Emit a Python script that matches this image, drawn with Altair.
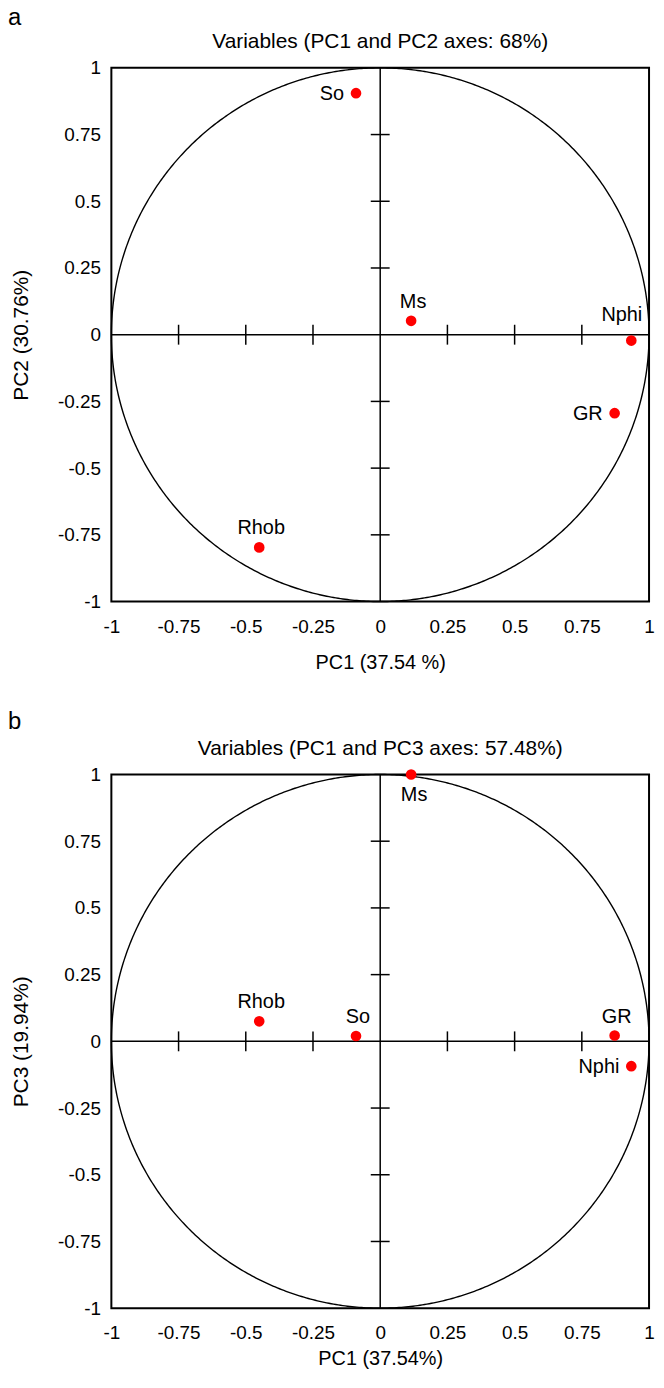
import altair as alt
import numpy as np
import pandas as pd

# ---- data ----
variables = ["So", "Ms", "Nphi", "GR", "Rhob"]
pc1 = [-0.09, 0.115, 0.934, 0.872, -0.45]
pc2 = [0.905, 0.052, -0.022, -0.294, -0.797]
pc3 = [0.02, 1.0, -0.093, 0.022, 0.075]

axis_values = [-1, -0.75, -0.5, -0.25, 0, 0.25, 0.5, 0.75, 1]
inner_ticks = [-0.75, -0.5, -0.25, 0.25, 0.5, 0.75]
origin = [0]

panel_a_text = {"title": "Variables (PC1 and PC2 axes: 68%)", "x": "PC1 (37.54 %)",
                "y": "PC2 (30.76%)", "letter": "a"}
panel_b_text = {"title": "Variables (PC1 and PC3 axes: 57.48%)", "x": "PC1 (37.54%)",
                "y": "PC3 (19.94%)", "letter": "b"}

# unit correlation circle
angles = np.linspace(0, 2 * np.pi, 721)
circle = pd.DataFrame({"x": np.cos(angles), "y": np.sin(angles), "i": np.arange(len(angles))})

SANS = "Liberation Sans"

LABEL_STYLES = {
    "left": dict(align="right", baseline="middle", dx=-12, dy=1),
    "above": dict(align="center", baseline="alphabetic", dx=2, dy=-13),
    "aboveleft": dict(align="right", baseline="alphabetic", dx=11, dy=-20),
    "below": dict(align="center", baseline="alphabetic", dx=3, dy=27),
}


def panel(yvals, txt, groups, x_title_y, letter_offset):
    pts = pd.DataFrame({"name": variables, "x": pc1, "y": yvals})
    sc = alt.Scale(domain=[-1, 1], nice=False, zero=False)
    X = alt.X("x:Q", scale=sc, axis=alt.Axis(
        values=axis_values, labelExpr="toString(datum.value)", ticks=False, domain=False,
        grid=False, labelFlush=False, labelPadding=16, labelFont=SANS, labelFontSize=19,
        title=txt["x"], titleFont=SANS, titleFontSize=20, titleFontWeight="normal",
        titleBaseline="alphabetic", titleY=x_title_y))
    Y = alt.Y("y:Q", scale=sc, axis=alt.Axis(
        values=axis_values, labelExpr="toString(datum.value)", ticks=False, domain=False,
        grid=False, labelPadding=11, labelFont=SANS, labelFontSize=19,
        title=txt["y"], titleFont=SANS, titleFontSize=21, titleFontWeight="normal",
        titleX=-80))

    layers = [
        alt.Chart(circle).mark_line(color="black", strokeWidth=1.4).encode(x=X, y=Y, order="i:Q"),
        alt.Chart(pd.DataFrame({"y": origin})).mark_rule(color="black", strokeWidth=1.5).encode(y=Y),
        alt.Chart(pd.DataFrame({"x": origin})).mark_rule(color="black", strokeWidth=1.5).encode(x=X),
        alt.Chart(pd.DataFrame({"x": inner_ticks, "y": origin * len(inner_ticks)}))
        .mark_tick(orient="vertical", size=20, thickness=1.5, color="black", opacity=1)
        .encode(x=X, y=Y),
        alt.Chart(pd.DataFrame({"x": origin * len(inner_ticks), "y": inner_ticks}))
        .mark_tick(orient="horizontal", size=19, thickness=1.5, color="black", opacity=1)
        .encode(x=X, y=Y),
        alt.Chart(pts).mark_circle(size=115, color="#ff0000", opacity=1).encode(x=X, y=Y),
    ]
    for style, names in groups.items():
        layers.append(
            alt.Chart(pts)
            .transform_filter(alt.FieldOneOfPredicate(field="name", oneOf=names))
            .mark_text(font=SANS, fontSize=20, color="black", **LABEL_STYLES[style])
            .encode(x=X, y=Y, text="name:N")
        )
    inner = alt.layer(*layers).properties(
        width=541, height=537,
        title=alt.Title(txt["title"], offset=7, fontSize=21, font=SANS,
                        fontWeight="normal", anchor="middle", color="black"),
    )
    return alt.vconcat(inner, title=alt.Title(
        txt["letter"], anchor="start", offset=letter_offset, dx=-2, fontSize=24, font=SANS,
        fontWeight="normal", color="black"))


pa = panel(pc2, panel_a_text,
           {"left": ["So", "GR"], "above": ["Ms", "Rhob"], "aboveleft": ["Nphi"]}, 67, 0)
pb = panel(pc3, panel_b_text,
           {"below": ["Ms"], "above": ["Rhob", "So", "GR"], "left": ["Nphi"]}, 57, 3)

chart = (
    alt.vconcat(pa, pb, spacing=37)
    .properties(padding={"left": 0, "top": -6, "right": 0, "bottom": 0})
    .configure_view(stroke="black", strokeWidth=2)
    .configure_axis(labelColor="black", titleColor="black")
)

chart.save("out.html", embed_options={"renderer": "svg", "actions": False})
